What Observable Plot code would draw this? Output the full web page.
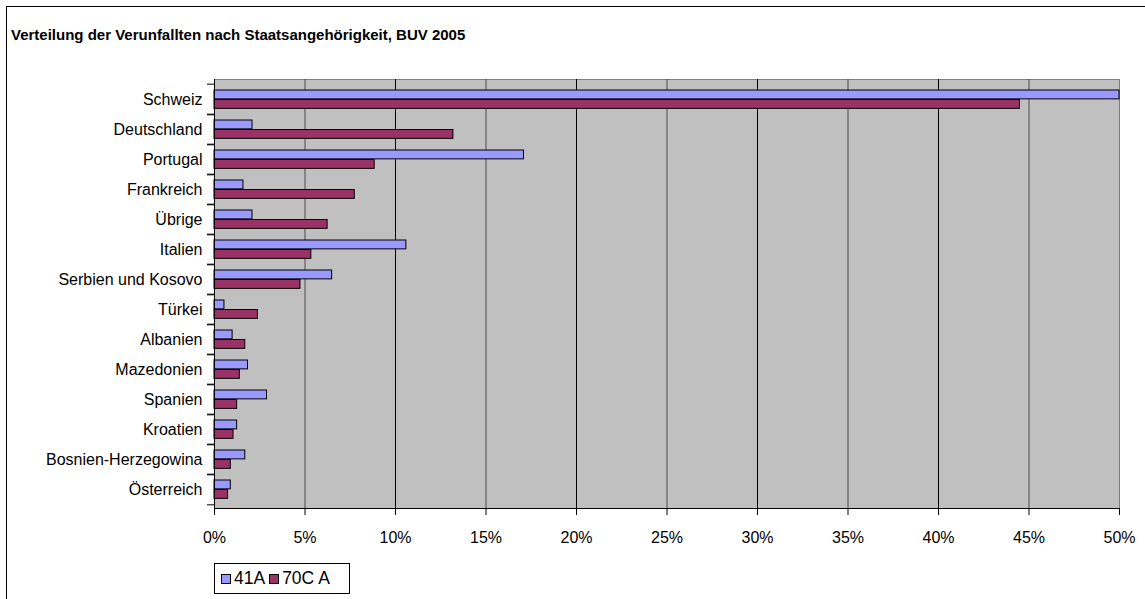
<!DOCTYPE html>
<html>
<head>
<meta charset="utf-8">
<script src="https://cdn.jsdelivr.net/npm/d3@7"></script>
<script src="https://cdn.jsdelivr.net/npm/@observablehq/plot@0.6"></script>
<style>
  html, body { margin: 0; padding: 0; background: #fff; overflow: hidden; width: 1145px; height: 599px; }
  body { position: relative; font-family: "Liberation Sans", Arial, sans-serif; color: #000; }
  #outer { position: absolute; left: 6px; top: 6px; width: 1200px; height: 700px; border: 1px solid #000; box-sizing: border-box; }
  #title { position: absolute; left: 11px; top: 27px; font-size: 15px; line-height: 15px; font-weight: bold; white-space: nowrap; }
  #chart { position: absolute; left: 0; top: 0; }
  #legend { position: absolute; left: 214px; top: 563px; width: 136px; height: 31px; border: 1px solid #000; box-sizing: border-box; background: #fff;
            display: flex; align-items: center; padding-left: 6px; font-size: 17.5px; }
  .sw { display: inline-block; width: 10px; height: 10px; border: 1px solid #000; box-sizing: border-box; margin-right: 3px; }
  .item { display: inline-flex; align-items: center; margin-right: 4px; white-space: nowrap; }
</style>
</head>
<body>
<div id="outer"></div>
<div id="chart"></div>
<div id="title">Verteilung der Verunfallten nach Staatsangehörigkeit, BUV 2005</div>
<div id="legend"></div>
<script>
const countries = ["Schweiz","Deutschland","Portugal","Frankreich","Übrige","Italien","Serbien und Kosovo","Türkei","Albanien","Mazedonien","Spanien","Kroatien","Bosnien-Herzegowina","Österreich"];
const values41A = [50.0, 2.1, 17.1, 1.6, 2.1, 10.6, 6.5, 0.55, 1.0, 1.85, 2.9, 1.25, 1.7, 0.9];
const values70CA = [44.5, 13.2, 8.85, 7.75, 6.25, 5.35, 4.75, 2.4, 1.7, 1.4, 1.25, 1.05, 0.9, 0.75];
const seriesNames = ["41A", "70C A"];
const seriesColors = ["#9999FF", "#993366"];
const xTicks = [0, 5, 10, 15, 20, 25, 30, 35, 40, 45, 50];
const gridTicks = [5, 10, 15, 20, 25, 30, 35, 40, 45];

const t41 = countries.map((c, i) => ({country: c, value: values41A[i]}));
const t70 = countries.map((c, i) => ({country: c, value: values70CA[i]}));

const W = 1145, H = 599, mL = 214, mR = 26, mT = 79, mB = 91;
const band = (H - mT - mB) / countries.length;

const plot = Plot.plot({
  width: W, height: H,
  marginLeft: mL, marginRight: mR, marginTop: mT, marginBottom: mB,
  style: {fontFamily: "'Liberation Sans', Arial, sans-serif", fontSize: "16px", color: "#000", background: "transparent"},
  x: {domain: [0, 50], ticks: xTicks},
  y: {domain: countries, padding: 0},
  marks: [
    Plot.frame({fill: "#C0C0C0", stroke: "#808080"}),
    Plot.ruleX(gridTicks, {stroke: d => (d % 10 === 0 ? "#000" : "#4a4a4a"), strokeWidth: 1}),
    Plot.barX(t41, {x: "value", y: "country", fill: seriesColors[0], stroke: "#000", strokeWidth: 1, insetTop: 6, insetBottom: band - 15.5}),
    Plot.barX(t70, {x: "value", y: "country", fill: seriesColors[1], stroke: "#000", strokeWidth: 1, insetTop: 15.5, insetBottom: band - 25}),
    Plot.frame({anchor: "bottom", stroke: "#000"}),
    Plot.frame({anchor: "left", stroke: "#000"}),
    Plot.axisX({ticks: xTicks, tickSize: 7, tickPadding: 16, tickFormat: d => d + "%", label: null}),
    Plot.axisY({tickSize: 0, tickPadding: 12, label: null}),
    Plot.axisY({tickSize: 7, fill: "none", label: null, dy: -band / 2}),
    Plot.axisY({tickSize: 7, fill: "none", label: null, dy: band / 2})
  ]
});
document.getElementById("chart").appendChild(plot);

const legend = document.getElementById("legend");
seriesNames.forEach((name, i) => {
  const it = document.createElement("span");
  it.className = "item";
  const sw = document.createElement("span");
  sw.className = "sw";
  sw.style.background = seriesColors[i];
  it.appendChild(sw);
  it.appendChild(document.createTextNode(name));
  legend.appendChild(it);
});
</script>
</body>
</html>
